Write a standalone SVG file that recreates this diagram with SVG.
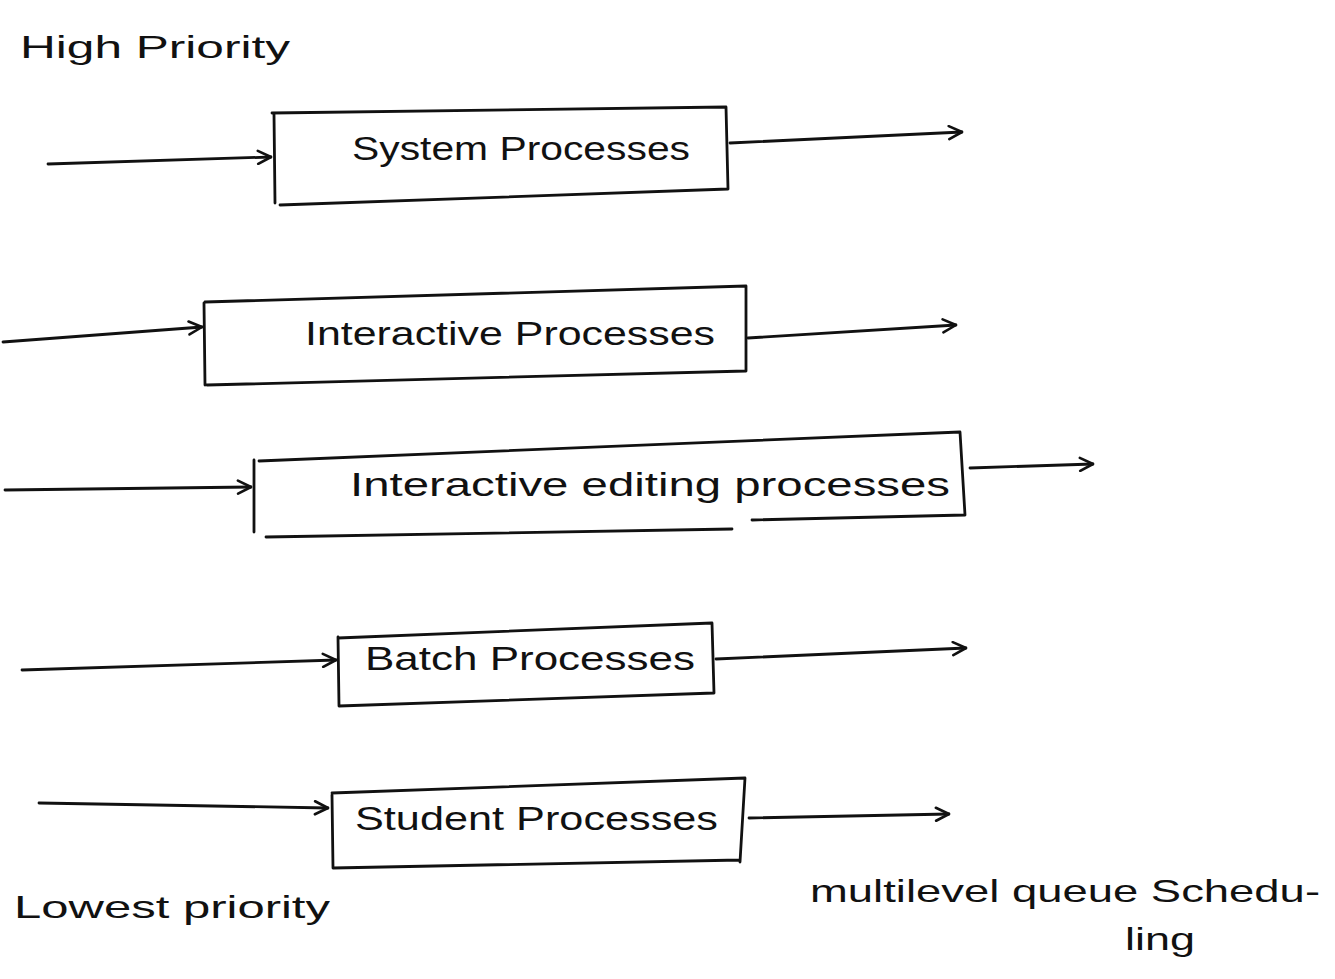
<svg xmlns="http://www.w3.org/2000/svg" width="1335" height="979" viewBox="0 0 1335 979">
  <style>
    .box { fill: none; stroke: #111; stroke-width: 2.8; stroke-linecap: round; stroke-linejoin: round; }
    .edge { fill: none; stroke: #111; stroke-width: 2.8; stroke-linecap: round; }
    .lbl { font-family: "Liberation Sans", "DejaVu Sans", sans-serif; font-size: 34px; fill: #111; }
    .note { font-family: "Liberation Sans", "DejaVu Sans", sans-serif; font-size: 32px; fill: #111; }
  </style>
  <defs>
    <marker id="chev" viewBox="0 0 16 16" refX="15" refY="8" markerWidth="16" markerHeight="16" markerUnits="userSpaceOnUse" orient="auto">
      <path d="M2,1.5 L15,8 L2,14.5" fill="none" stroke="#111" stroke-width="2.6" stroke-linecap="round" stroke-linejoin="round"/>
    </marker>
  </defs>
  <rect width="1335" height="979" fill="#fff"/>

  <!-- side labels -->
  <text class="note" x="20" y="58" textLength="270" lengthAdjust="spacingAndGlyphs">High Priority</text>
  <text class="note" x="14" y="918" textLength="316" lengthAdjust="spacingAndGlyphs">Lowest priority</text>
  <text class="note" x="810" y="902" textLength="510" lengthAdjust="spacingAndGlyphs">multilevel queue Schedu-</text>
  <text class="note" x="1125" y="950" textLength="70" lengthAdjust="spacingAndGlyphs">ling</text>

  <!-- queue levels -->
  <g id="system">
    <path class="box" d="M272,113 L726,107 L728,189 M274,114 L275,203 M280,205 L728,189"/>
    <text class="lbl" x="352" y="160" textLength="338" lengthAdjust="spacingAndGlyphs">System Processes</text>
  </g>
  <g id="interactive">
    <path class="box" d="M205,302 L746,286 L746,371 M204,303 L205,385 M207,385 L746,371"/>
    <text class="lbl" x="305" y="345" textLength="410" lengthAdjust="spacingAndGlyphs">Interactive Processes</text>
  </g>
  <g id="editing">
    <path class="box" d="M259,461 L960,432 L965,515 M254,460 L254,532 M266,537 L732,529 M752,520 L965,515"/>
    <text class="lbl" x="350" y="496" textLength="600" lengthAdjust="spacingAndGlyphs">Interactive editing processes</text>
  </g>
  <g id="batch">
    <path class="box" d="M338,638 L712,623 L714,693 M338,637 L339,706 M339,706 L714,693"/>
    <text class="lbl" x="365" y="670" textLength="330" lengthAdjust="spacingAndGlyphs">Batch Processes</text>
  </g>
  <g id="student">
    <path class="box" d="M332,793 L745,778 L740,862 M332,795 L333,868 M333,868 L740,860"/>
    <text class="lbl" x="355" y="830" textLength="363" lengthAdjust="spacingAndGlyphs">Student Processes</text>
  </g>

  <!-- connectors -->
  <g id="connectors">
    <path class="edge" marker-end="url(#chev)" d="M48,164 L271,157"/>
    <path class="edge" marker-end="url(#chev)" d="M730,143 L962,132"/>
    <path class="edge" marker-end="url(#chev)" d="M3,342 L202,327"/>
    <path class="edge" marker-end="url(#chev)" d="M748,338 L956,325"/>
    <path class="edge" marker-end="url(#chev)" d="M5,490 L251,487"/>
    <path class="edge" marker-end="url(#chev)" d="M970,468 L1093,464"/>
    <path class="edge" marker-end="url(#chev)" d="M22,670 L336,660"/>
    <path class="edge" marker-end="url(#chev)" d="M716,659 L966,648"/>
    <path class="edge" marker-end="url(#chev)" d="M39,803 L328,808"/>
    <path class="edge" marker-end="url(#chev)" d="M749,818 L949,814"/>
  </g>
</svg>
